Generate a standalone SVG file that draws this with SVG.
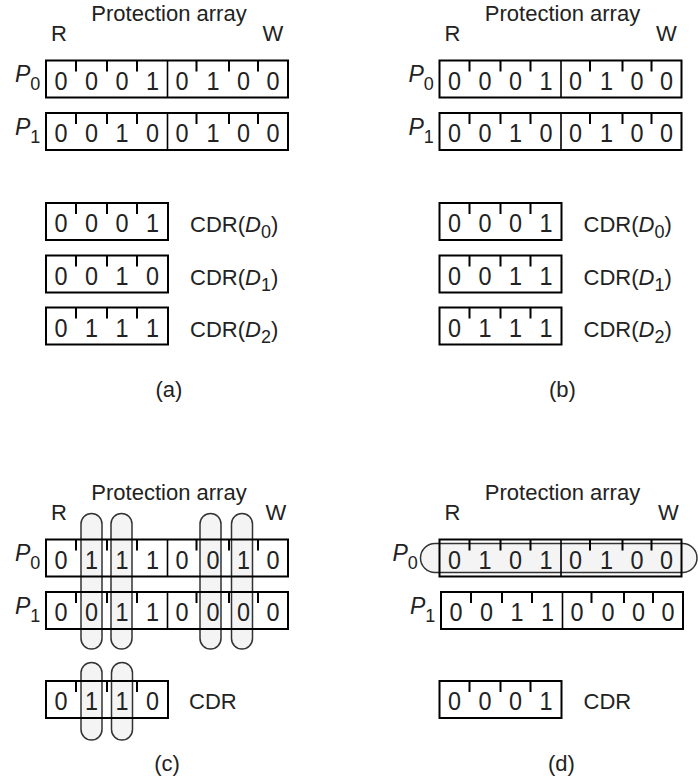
<svg xmlns="http://www.w3.org/2000/svg" xmlns:xlink="http://www.w3.org/1999/xlink" width="698" height="782" viewBox="0 0 698 782">
  <style>
    .frame { fill: none; stroke: #000; stroke-width: 2; }
    .half { stroke: #000; stroke-width: 1.6; }
    .tick { stroke: #000; stroke-width: 2; }
    text { font-family: "Liberation Sans", Arial, sans-serif; fill: #222; }
    .dg { font-size: 26px; text-anchor: middle; transform-box: fill-box; transform-origin: center; transform: scaleX(0.9); }
    .lbl { font-size: 22px; }
    .mid { text-anchor: middle; }
    .pl { font-size: 23px; font-style: italic; }
    .sub { font-size: 18px; font-style: normal; }
    .it { font-style: italic; }
    .pill { fill: #f4f4f4; stroke: #333; stroke-width: 1.5; }
  </style>
  <defs>
    <!-- 8-bit protection register: frame, R/W split and bit ticks -->
    <g id="reg8">
      <rect class="frame" x="0" y="0" width="242" height="37"/>
      <line class="half" x1="121.5" y1="0" x2="121.5" y2="37"/>
      <path class="tick" d="M30 0v11M61 0v11M91 0v11M150.5 0v11M183 0v11M212 0v11"/>
    </g>
    <!-- 4-bit capability register -->
    <g id="reg4">
      <rect class="frame" x="0" y="0" width="122" height="37"/>
      <path class="tick" d="M30 0v11M61 0v11M91 0v11"/>
    </g>
  </defs>

  <!-- (a) -->
  <g id="panel-a">
    <text class="lbl mid" x="169" y="21">Protection array</text>
    <text class="lbl mid" x="59" y="41">R</text>
    <text class="lbl mid" x="273" y="41">W</text>
    <g id="a-p0">
      <text class="pl" x="15" y="82">P<tspan class="sub" dy="8">0</tspan></text>
      <use xlink:href="#reg8" x="46" y="60.5"/>
      <g transform="translate(46,89.5)">
        <text class="dg" x="15">0</text><text class="dg" x="45.5">0</text><text class="dg" x="76">0</text><text class="dg" x="106.5">1</text>
        <text class="dg" x="136">0</text><text class="dg" x="167">1</text><text class="dg" x="197.5">0</text><text class="dg" x="227">0</text>
      </g>
    </g>
    <g id="a-p1">
      <text class="pl" x="15" y="134.5">P<tspan class="sub" dy="8">1</tspan></text>
      <use xlink:href="#reg8" x="46" y="113"/>
      <g transform="translate(46,142)">
        <text class="dg" x="15">0</text><text class="dg" x="45.5">0</text><text class="dg" x="76">1</text><text class="dg" x="106.5">0</text>
        <text class="dg" x="136">0</text><text class="dg" x="167">1</text><text class="dg" x="197.5">0</text><text class="dg" x="227">0</text>
      </g>
    </g>
    <g id="a-d0">
      <use xlink:href="#reg4" x="46" y="203"/>
      <g transform="translate(46,232)">
        <text class="dg" x="15">0</text><text class="dg" x="45.5">0</text><text class="dg" x="76">0</text><text class="dg" x="106.5">1</text>
      </g>
      <text class="lbl" x="190" y="232">CDR(<tspan class="it">D</tspan><tspan class="sub" dy="6">0</tspan><tspan dy="-6">)</tspan></text>
    </g>
    <g id="a-d1">
      <use xlink:href="#reg4" x="46" y="255.5"/>
      <g transform="translate(46,284.5)">
        <text class="dg" x="15">0</text><text class="dg" x="45.5">0</text><text class="dg" x="76">1</text><text class="dg" x="106.5">0</text>
      </g>
      <text class="lbl" x="190" y="284.5">CDR(<tspan class="it">D</tspan><tspan class="sub" dy="6">1</tspan><tspan dy="-6">)</tspan></text>
    </g>
    <g id="a-d2">
      <use xlink:href="#reg4" x="46" y="307.5"/>
      <g transform="translate(46,336.5)">
        <text class="dg" x="15">0</text><text class="dg" x="45.5">1</text><text class="dg" x="76">1</text><text class="dg" x="106.5">1</text>
      </g>
      <text class="lbl" x="190" y="336.5">CDR(<tspan class="it">D</tspan><tspan class="sub" dy="6">2</tspan><tspan dy="-6">)</tspan></text>
    </g>
    <text class="lbl mid" x="169" y="397">(a)</text>
  </g>

  <!-- (b) -->
  <g id="panel-b" transform="translate(393.5,0)">
    <text class="lbl mid" x="169" y="21">Protection array</text>
    <text class="lbl mid" x="59" y="41">R</text>
    <text class="lbl mid" x="273" y="41">W</text>
    <g id="b-p0">
      <text class="pl" x="15" y="82">P<tspan class="sub" dy="8">0</tspan></text>
      <use xlink:href="#reg8" x="46" y="60.5"/>
      <g transform="translate(46,89.5)">
        <text class="dg" x="15">0</text><text class="dg" x="45.5">0</text><text class="dg" x="76">0</text><text class="dg" x="106.5">1</text>
        <text class="dg" x="136">0</text><text class="dg" x="167">1</text><text class="dg" x="197.5">0</text><text class="dg" x="227">0</text>
      </g>
    </g>
    <g id="b-p1">
      <text class="pl" x="15" y="134.5">P<tspan class="sub" dy="8">1</tspan></text>
      <use xlink:href="#reg8" x="46" y="113"/>
      <g transform="translate(46,142)">
        <text class="dg" x="15">0</text><text class="dg" x="45.5">0</text><text class="dg" x="76">1</text><text class="dg" x="106.5">0</text>
        <text class="dg" x="136">0</text><text class="dg" x="167">1</text><text class="dg" x="197.5">0</text><text class="dg" x="227">0</text>
      </g>
    </g>
    <g id="b-d0">
      <use xlink:href="#reg4" x="46" y="203"/>
      <g transform="translate(46,232)">
        <text class="dg" x="15">0</text><text class="dg" x="45.5">0</text><text class="dg" x="76">0</text><text class="dg" x="106.5">1</text>
      </g>
      <text class="lbl" x="190" y="232">CDR(<tspan class="it">D</tspan><tspan class="sub" dy="6">0</tspan><tspan dy="-6">)</tspan></text>
    </g>
    <g id="b-d1">
      <use xlink:href="#reg4" x="46" y="255.5"/>
      <g transform="translate(46,284.5)">
        <text class="dg" x="15">0</text><text class="dg" x="45.5">0</text><text class="dg" x="76">1</text><text class="dg" x="106.5">1</text>
      </g>
      <text class="lbl" x="190" y="284.5">CDR(<tspan class="it">D</tspan><tspan class="sub" dy="6">1</tspan><tspan dy="-6">)</tspan></text>
    </g>
    <g id="b-d2">
      <use xlink:href="#reg4" x="46" y="307.5"/>
      <g transform="translate(46,336.5)">
        <text class="dg" x="15">0</text><text class="dg" x="45.5">1</text><text class="dg" x="76">1</text><text class="dg" x="106.5">1</text>
      </g>
      <text class="lbl" x="190" y="336.5">CDR(<tspan class="it">D</tspan><tspan class="sub" dy="6">2</tspan><tspan dy="-6">)</tspan></text>
    </g>
    <text class="lbl mid" x="169" y="397">(b)</text>
  </g>

  <!-- (c) -->
  <g id="panel-c" transform="translate(0,479)">
    <text class="lbl mid" x="169" y="21">Protection array</text>
    <text class="lbl mid" x="59" y="41">R</text>
    <text class="lbl mid" x="276" y="41">W</text>
    <!-- column highlights, drawn beneath the registers -->
    <g id="c-highlights">
      <rect class="pill" x="81" y="34.5" width="21" height="135.5" rx="10.5"/>
      <rect class="pill" x="111" y="34.5" width="21" height="135.5" rx="10.5"/>
      <rect class="pill" x="200" y="34.5" width="21" height="135.5" rx="10.5"/>
      <rect class="pill" x="231.5" y="34.5" width="21" height="135.5" rx="10.5"/>
      <rect class="pill" x="81" y="183.5" width="21" height="77.5" rx="10.5"/>
      <rect class="pill" x="111.5" y="183.5" width="21" height="77.5" rx="10.5"/>
    </g>
    <g id="c-p0">
      <text class="pl" x="15" y="82">P<tspan class="sub" dy="8">0</tspan></text>
      <use xlink:href="#reg8" x="46" y="60.5"/>
      <g transform="translate(46,89.5)">
        <text class="dg" x="15">0</text><text class="dg" x="45.5">1</text><text class="dg" x="76">1</text><text class="dg" x="106.5">1</text>
        <text class="dg" x="136">0</text><text class="dg" x="167">0</text><text class="dg" x="197.5">1</text><text class="dg" x="227">0</text>
      </g>
    </g>
    <g id="c-p1">
      <text class="pl" x="15" y="134.5">P<tspan class="sub" dy="8">1</tspan></text>
      <use xlink:href="#reg8" x="46" y="113"/>
      <g transform="translate(46,142)">
        <text class="dg" x="15">0</text><text class="dg" x="45.5">0</text><text class="dg" x="76">1</text><text class="dg" x="106.5">1</text>
        <text class="dg" x="136">0</text><text class="dg" x="167">0</text><text class="dg" x="197.5">0</text><text class="dg" x="227">0</text>
      </g>
    </g>
    <g id="c-cdr">
      <use xlink:href="#reg4" x="46" y="202"/>
      <g transform="translate(46,231)">
        <text class="dg" x="15">0</text><text class="dg" x="45.5">1</text><text class="dg" x="76">1</text><text class="dg" x="106.5">0</text>
      </g>
      <text class="lbl" x="189" y="229.5">CDR</text>
    </g>
    <text class="lbl mid" x="167" y="292">(c)</text>
  </g>

  <!-- (d) -->
  <g id="panel-d" transform="translate(393.5,479)">
    <text class="lbl mid" x="169" y="21">Protection array</text>
    <text class="lbl mid" x="59" y="41">R</text>
    <text class="lbl mid" x="275" y="41">W</text>
    <g id="d-highlights">
      <rect class="pill" x="27" y="64.5" width="276.5" height="29" rx="14.5"/>
    </g>
    <g id="d-p0">
      <text class="pl" x="-1" y="82">P<tspan class="sub" dy="8">0</tspan></text>
      <use xlink:href="#reg8" x="46" y="60.5"/>
      <g transform="translate(46,89.5)">
        <text class="dg" x="15">0</text><text class="dg" x="45.5">1</text><text class="dg" x="76">0</text><text class="dg" x="106.5">1</text>
        <text class="dg" x="136">0</text><text class="dg" x="167">1</text><text class="dg" x="197.5">0</text><text class="dg" x="227">0</text>
      </g>
    </g>
    <g id="d-p1">
      <text class="pl" x="16.5" y="134.5">P<tspan class="sub" dy="8">1</tspan></text>
      <use xlink:href="#reg8" x="47.5" y="113"/>
      <g transform="translate(47.5,142)">
        <text class="dg" x="15">0</text><text class="dg" x="45.5">0</text><text class="dg" x="76">1</text><text class="dg" x="106.5">1</text>
        <text class="dg" x="136">0</text><text class="dg" x="167">0</text><text class="dg" x="197.5">0</text><text class="dg" x="227">0</text>
      </g>
    </g>
    <g id="d-cdr">
      <use xlink:href="#reg4" x="46" y="202"/>
      <g transform="translate(46,231)">
        <text class="dg" x="15">0</text><text class="dg" x="45.5">0</text><text class="dg" x="76">0</text><text class="dg" x="106.5">1</text>
      </g>
      <text class="lbl" x="190" y="229.5">CDR</text>
    </g>
    <text class="lbl mid" x="168" y="292">(d)</text>
  </g>
</svg>
